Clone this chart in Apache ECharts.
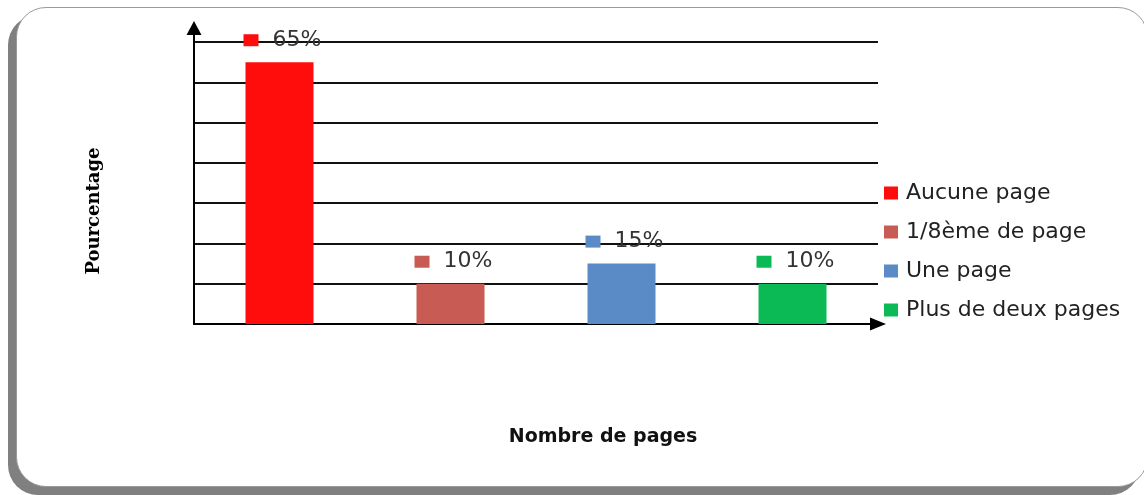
<!DOCTYPE html>
<html>
<head>
<meta charset="utf-8">
<script src="https://cdn.jsdelivr.net/npm/echarts@6/dist/echarts.min.js"></script>
<style>
    body{
    margin: 0;
    width: 1144px;
    height: 495px;
    overflow: hidden;
    background: #fff;
}
    /* cadre arrondi avec ombre grise */
    .frame{
    position: absolute;
    left: 16px;
    top: 7px;
    width: 1130px;
    height: 478px;
    border: 1px solid #9a9a9a;
    border-radius: 30px;
    background: #fff;
    box-shadow: -8px 8px 0 #808080;
}
    .chart{
    position: absolute;
    left: 0;
    top: 0;
    width: 1144px;
    height: 495px;
}
</style>
</head>
<body>
<div class="frame"></div>
<div id="chart" class="chart"></div>
<script>
// catégories (légende)
const categories = ["Aucune page", "1/8ème de page", "Une page", "Plus de deux pages"];
// pourcentages
const percentages = [65, 10, 15, 10];
// couleurs des barres
const colorArr = ["#ff0d0d", "#c95b55", "#5b8bc7", "#0bba55"];

const chart = echarts.init(document.getElementById("chart"));

// une série par catégorie, empilées pour rester centrées
const series = categories.map((name, i) => {
    return {
        name: name,
        type: "bar",
        stack: "total",
        barWidth: 68,
        data: categories.map((c, j) => (j === i ? percentages[i] : "-")),
        itemStyle: { color: colorArr[i] },
        label: {
            show: true,
            position: [-2, -33],
            formatter: p => "{sq|}{v|" + p.value + "%}",
            rich: {
                sq: { backgroundColor: colorArr[i], width: 15, height: 12 },
                v: {
                    fontFamily: "DejaVu Sans",
                    fontSize: 22,
                    lineHeight: 22,
                    color: "#333",
                    padding: [0, 0, 0, 14]
                }
            }
        }
    };
});

const option = {
    animation: false,
    grid: { left: 194, right: 266, top: 28, bottom: 171 },
    legend: {
        orient: "vertical",
        left: 879,
        top: 177,
        icon: "rect",
        itemWidth: 14,
        itemHeight: 13,
        itemGap: 17,
        textStyle: {
            fontFamily: "DejaVu Sans",
            fontSize: 22,
            lineHeight: 22,
            color: "#222",
            padding: [0, 0, 0, 3]
        },
        data: categories
    },
    xAxis: {
        type: "category",
        data: categories,
        name: "Nombre de pages",
        nameLocation: "middle",
        nameGap: 104,
        nameTextStyle: {
            fontFamily: "DejaVu Sans",
            fontWeight: "bold",
            fontSize: 19,
            color: "#111",
            padding: [0, 0, 0, 134]
        },
        axisLine: {
            symbol: ["none", "triangle"],
            symbolSize: [13, 16],
            lineStyle: { color: "#000", width: 2 }
        },
        axisTick: { show: false },
        axisLabel: { show: false }
    },
    yAxis: {
        type: "value",
        min: 0,
        max: 73.5,
        interval: 10,
        name: "Pourcentage",
        nameLocation: "middle",
        nameGap: 91,
        nameTextStyle: {
            fontFamily: "DejaVu Serif",
            fontWeight: "bold",
            fontSize: 18,
            color: "#000",
            padding: [0, 70, 0, 0]
        },
        axisLine: {
            show: true,
            symbol: ["none", "triangle"],
            symbolSize: [15, 14],
            lineStyle: { color: "#000", width: 2 }
        },
        axisTick: { show: false },
        axisLabel: { show: false },
        splitLine: {
            show: true,
            showMaxLine: false,
            lineStyle: { color: "#111", width: 2 }
        }
    },
    series: series
};

chart.setOption(option);
</script>
</body>
</html>
